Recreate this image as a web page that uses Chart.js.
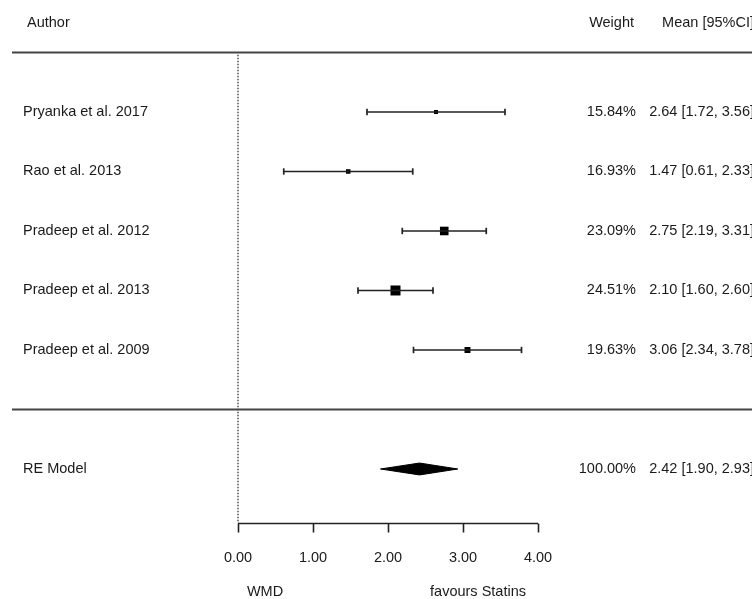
<!DOCTYPE html>
<html>
<head>
<meta charset="utf-8">
<script src="https://cdn.jsdelivr.net/npm/chart.js@4"></script>
<style>
  html, body { margin: 0; padding: 0; background: #fff; }
  #wrap { width: 752px; height: 599px; position: relative; }
</style>
</head>
<body>
<div id="wrap"><canvas id="forest"></canvas></div>
<script>
// study data
const authors = ['Pryanka et al. 2017', 'Rao et al. 2013', 'Pradeep et al. 2012', 'Pradeep et al. 2013', 'Pradeep et al. 2009'];
const weights = [15.84, 16.93, 23.09, 24.51, 19.63];
const means = [2.64, 1.47, 2.75, 2.10, 3.06];
const lowers = [1.72, 0.61, 2.19, 1.60, 2.34];
const uppers = [3.56, 2.33, 3.31, 2.60, 3.78];

// pooled (RE model)
const pooledLabel = 'RE Model';
const pooledWeight = 100;
const pooledMean = 2.42;
const pooledLower = 1.90;
const pooledUpper = 2.93;

const tickValues = [0, 1, 2, 3, 4];
const xTitles = ['WMD', 'favours Statins'];
const headers = ['Author', 'Weight', 'Mean [95%CI]'];

// row layout (y in "rows")
const rows = authors.map((a, i) => authors.length - i);
const reRow = -1;
const headRow = 6.5, ruleTop = 6, ruleMid = 0;
const axisRow = -1.908, tickLabRow = -2.496, titleRow = -3.067;

const fmt = v => v.toFixed(2);
const ciText = (m, l, u) => `${fmt(m)} [${fmt(l)}, ${fmt(u)}]`;

// marker size from precision (narrower CI -> bigger box)
const prec = lowers.map((l, i) => 1 / (uppers[i] - l));
const pMin = Math.min(...prec), pMax = Math.max(...prec);
const boxSide = prec.map(p => 4 + 6 * (p - pMin) / (pMax - pMin));

const ink = '#1a1a1a';
const lineInk = '#222';
const font = '14.5px "Liberation Sans", Arial, sans-serif';

const ciSets = authors.map((a, i) => ({
  label: a,
  data: [{x: lowers[i], y: rows[i]}, {x: uppers[i], y: rows[i]}],
  showLine: true,
  borderColor: lineInk,
  borderWidth: 1.7,
  pointStyle: 'line',
  rotation: 90,
  pointRadius: 3.2,
  pointBorderWidth: 1.7,
  pointBorderColor: lineInk
}));

const textPlugin = {
  id: 'forestText',
  afterDraw(chart) {
    const {ctx, scales: {x, y}, chartArea} = chart;
    ctx.save();
    // rules
    ctx.strokeStyle = '#444';
    ctx.lineWidth = 1.8;
    [ruleTop, ruleMid].forEach(r => {
      const py = Math.round(y.getPixelForValue(r)) + 0.5;
      ctx.beginPath();
      ctx.moveTo(chartArea.left + 12, py);
      ctx.lineTo(chartArea.right, py);
      ctx.stroke();
    });

    // axis
    const ay = Math.round(y.getPixelForValue(axisRow)) + 0.5;
    ctx.strokeStyle = lineInk;
    ctx.lineWidth = 1.6;
    ctx.beginPath();
    ctx.moveTo(x.getPixelForValue(tickValues[0]), ay);
    ctx.lineTo(x.getPixelForValue(tickValues[tickValues.length - 1]), ay);
    tickValues.forEach(t => {
      const px = Math.round(x.getPixelForValue(t)) + 0.5;
      ctx.moveTo(px, ay);
      ctx.lineTo(px, ay + 9);
    });
    ctx.stroke();

    ctx.fillStyle = ink;
    ctx.font = font;
    ctx.textBaseline = 'middle';
    ctx.textAlign = 'center';
    tickValues.forEach(t => {
      ctx.fillText(fmt(t), x.getPixelForValue(t), y.getPixelForValue(tickLabRow));
    });
    ctx.fillText(xTitles[0], x.getPixelForValue(0.36), y.getPixelForValue(titleRow));
    ctx.fillText(xTitles[1], x.getPixelForValue(3.2), y.getPixelForValue(titleRow));

    // headers
    const hy = y.getPixelForValue(headRow);
    ctx.textAlign = 'left';
    ctx.fillText(headers[0], 27, hy);
    ctx.textAlign = 'right';
    ctx.fillText(headers[1], 634, hy);
    ctx.fillText(headers[2], 754, hy);

    // study rows
    authors.forEach((a, i) => {
      const py = y.getPixelForValue(rows[i]);
      ctx.textAlign = 'left';
      ctx.fillText(a, 23, py);
      ctx.textAlign = 'right';
      ctx.fillText(fmt(weights[i]) + '%', 636, py);
      ctx.fillText(ciText(means[i], lowers[i], uppers[i]), 754, py);
    });

    const ry = y.getPixelForValue(reRow);
    ctx.textAlign = 'left';
    ctx.fillText(pooledLabel, 23, ry);
    ctx.textAlign = 'right';
    ctx.fillText(fmt(pooledWeight) + '%', 636, ry);
    ctx.fillText(ciText(pooledMean, pooledLower, pooledUpper), 754, ry);
    ctx.restore();
  }
};

new Chart(document.getElementById('forest'), {
  type: 'scatter',
  data: {
    datasets: [
      {
        label: 'zero',
        data: [{x: 0, y: ruleTop - 0.04}, {x: 0, y: axisRow}],
        showLine: true,
        borderColor: '#444',
        borderWidth: 1.4,
        borderDash: [1.5, 1.5],
        pointRadius: 0
      },
      ...ciSets,
      {
        label: 'estimates',
        data: means.map((m, i) => ({x: m, y: rows[i]})),
        pointStyle: 'rect',
        pointRadius: boxSide.map(s => s / Math.SQRT2),
        backgroundColor: '#000',
        borderColor: '#000',
        borderWidth: 0
      },
      {
        label: pooledLabel,
        data: [
          {x: pooledLower, y: reRow},
          {x: pooledMean, y: reRow + 0.1},
          {x: pooledUpper, y: reRow},
          {x: pooledMean, y: reRow - 0.1},
          {x: pooledLower, y: reRow}
        ],
        showLine: true,
        fill: 'shape',
        backgroundColor: '#000',
        borderColor: '#000',
        borderWidth: 1,
        pointRadius: 0,
        tension: 0
      }
    ]
  },
  options: {
    responsive: true,
    maintainAspectRatio: false,
    animation: false,
    layout: { padding: 0, autoPadding: false },
    plugins: {
      legend: { display: false },
      tooltip: { enabled: false }
    },
    scales: {
      x: { type: 'linear', display: false, min: -3.1733, max: 6.8533 },
      y: { type: 'linear', display: false, min: -3.185, max: 6.882 }
    }
  },
  plugins: [textPlugin]
});
</script>
</body>
</html>
